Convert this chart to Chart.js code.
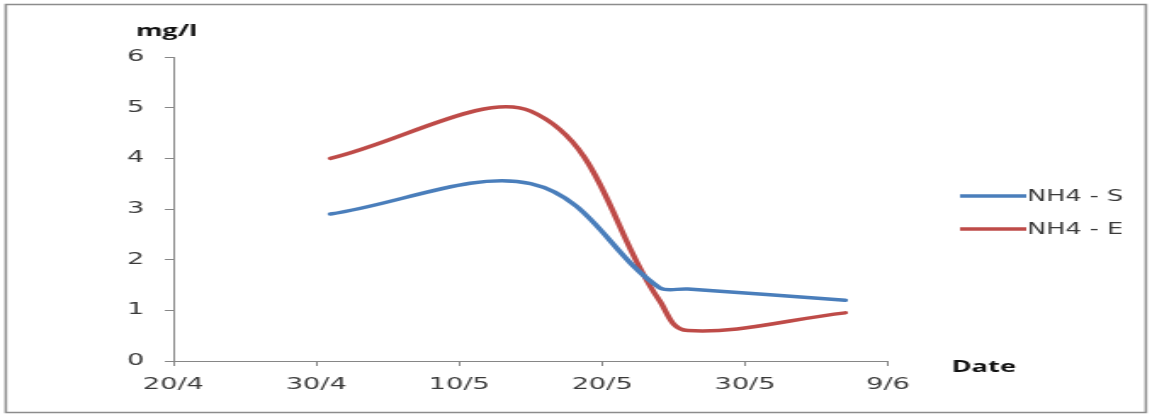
<!DOCTYPE html>
<html>
<head>
<meta charset="utf-8">
<script src="https://cdn.jsdelivr.net/npm/chart.js@4/dist/chart.umd.min.js"></script>
<style>
  html, body { margin: 0; padding: 0; background: #ffffff; overflow: hidden; }
  /* the chart is drawn narrow and widened, giving the broad lettering of the figure */
  #wrap { width: 678px; height: 416px; transform: scaleX(1.6991); transform-origin: 0 0; }
</style>
</head>
<body>
<div id="wrap"><canvas id="c" width="678" height="416"></canvas></div>
<script>
// Ammonium (NH4) concentration, sampling dates as day/month
const xTickLabels = ['20/4', '30/4', '10/5', '20/5', '30/5', '9/6'];
const sampleDates = ['1/5', '15/5', '24/5', '26/5', '6/6'];
const nh4S = [2.9, 3.5, 1.45, 1.42, 1.2];
const nh4E = [4.0, 4.93, 1.2, 0.6, 0.95];
const seriesNames = ['NH4 - S', 'NH4 - E'];
const seriesColors = ['#4a7ebb', '#be4b48'];
const yTitle = 'mg/l';
const xTitle = 'Date';

// days counted from the first axis date (20/4)
function dayOffset(s) {
  const [d, m] = s.split('/').map(Number);
  return (Date.UTC(2001, m - 1, d) - Date.UTC(2001, 3, 20)) / 86400000;
}
const xDays = sampleDates.map(dayOffset);
const toPoints = vals => vals.map((v, i) => ({ x: xDays[i], y: v }));

const axisGray = '#868686';
const textGray = '#3a3a3a';

const decorations = {
  id: 'decorations',
  afterDraw(chart) {
    const ctx = chart.ctx;
    ctx.save();
    // outer frame
    ctx.strokeStyle = '#8c8c8c';
    ctx.lineWidth = 1.5;
    ctx.strokeRect(3.4, 4.5, 671, 408);
    // axis titles
    ctx.fillStyle = '#111111';
    ctx.font = 'bold 16px "Open Sans"';
    ctx.textBaseline = 'alphabetic';
    ctx.textAlign = 'center';
    ctx.fillText(yTitle, 98, 36);
    ctx.textAlign = 'left';
    ctx.fillText(xTitle, 560, 372);
    // legend
    ctx.font = '15px "DejaVu Sans"';
    ctx.textBaseline = 'middle';
    chart.data.datasets.forEach((ds, i) => {
      const y = 196 + i * 33;
      ctx.strokeStyle = ds.borderColor;
      ctx.lineWidth = 3.5;
      ctx.lineCap = 'butt';
      ctx.beginPath();
      ctx.moveTo(565, y);
      ctx.lineTo(604, y);
      ctx.stroke();
      ctx.fillStyle = textGray;
      ctx.fillText(ds.label, 604.5, y + 1);
    });
    ctx.restore();
  }
};

new Chart(document.getElementById('c'), {
  type: 'line',
  data: {
    datasets: [
      { label: seriesNames[0], data: toPoints(nh4S), borderColor: seriesColors[0] },
      { label: seriesNames[1], data: toPoints(nh4E), borderColor: seriesColors[1] }
    ].map(ds => Object.assign(ds, {
      borderWidth: 3.5,
      tension: 0.36,
      pointRadius: 0,
      fill: false,
      borderCapStyle: 'round',
      borderJoinStyle: 'round'
    }))
  },
  options: {
    responsive: false,
    animation: false,
    devicePixelRatio: 1,
    layout: { padding: { left: 72, right: 155.4, top: 57, bottom: 15 } },
    plugins: { legend: { display: false }, tooltip: { enabled: false } },
    scales: {
      x: {
        type: 'linear',
        min: 0,
        max: 50,
        afterFit: s => { s.height = 40; },
        afterBuildTicks: s => { s.ticks = xTickLabels.map((_, i) => ({ value: i * 10 })); },
        ticks: {
          callback: (v, i) => xTickLabels[i],
          font: { family: 'DejaVu Sans', size: 16 },
          color: textGray,
          padding: 9,
          maxRotation: 0,
          autoSkip: false
        },
        grid: { drawOnChartArea: false, drawTicks: true, tickLength: 5, color: axisGray },
        border: { color: axisGray, width: 1 }
      },
      y: {
        min: 0,
        max: 6,
        afterFit: s => { s.width = 30; },
        ticks: {
          stepSize: 1,
          font: { family: 'DejaVu Sans', size: 16 },
          color: textGray,
          padding: 12
        },
        grid: { drawOnChartArea: false, drawTicks: true, tickLength: 5, color: axisGray },
        border: { color: axisGray, width: 1 }
      }
    }
  },
  plugins: [decorations]
});
</script>
</body>
</html>
